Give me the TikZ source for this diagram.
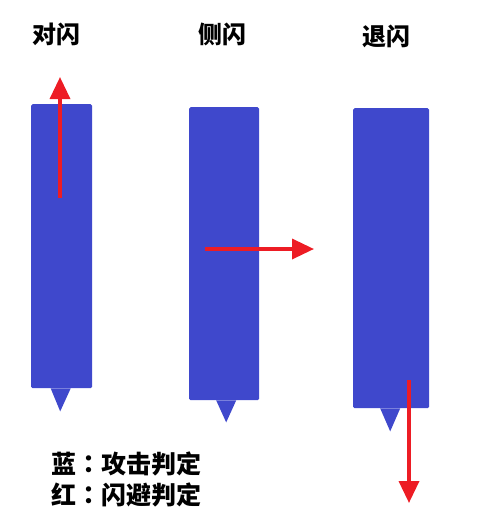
\documentclass[tikz,border=0pt]{standalone}
\usepackage{fontspec}
\newfontfamily\cjk{Noto Sans CJK SC}
\newfontfamily\cjktc{Noto Sans CJK TC}
\usetikzlibrary{arrows.meta,positioning}
\definecolor{hitblue}{RGB}{63,72,204}
\definecolor{dodgered}{RGB}{237,28,36}
\newcommand{\keycolon}{{\cjktc\bfseries ：}}

\begin{document}
\begin{tikzpicture}[x=1pt,y=-1pt,
  hitbox/.style={fill=hitblue,rounded corners=1.5pt,inner sep=0pt,anchor=north west},
  tip/.style={fill=hitblue},
  dodge/.style={draw=dodgered,line width=3.5pt,-{Triangle[length=22pt,width=20pt]}},
  title/.style={font=\cjk\bfseries\fontsize{24}{28}\selectfont,inner sep=0pt},
  key/.style={font=\cjk\bfseries\fontsize{25}{29}\selectfont,inner sep=0pt,anchor=west}]
  \useasboundingbox (0,0) rectangle (477,531);

  % titles
  \node[title] (t1) at (56,34) {对闪};
  \node[title] (t2) at (222,34) {侧闪};
  \node[title] (t3) at (386,36) {退闪};

  % blue hit boxes
  \node[hitbox,minimum width=61pt,minimum height=284pt] (b1) at (31,104) {};
  \node[hitbox,minimum width=70pt,minimum height=293pt] (b2) at (189,107) {};
  \node[hitbox,minimum width=76pt,minimum height=300pt] (b3) at (353,108) {};
  \fill[tip] ([xshift=-11pt]b1.south) -- ([xshift=9pt]b1.south) -- ([xshift=-1.5pt,yshift=-23pt]b1.south) -- cycle;
  \fill[tip] ([xshift=-8pt]b2.south) -- ([xshift=12pt]b2.south) -- ([xshift=2pt,yshift=-22pt]b2.south) -- cycle;
  \fill[tip] ([xshift=-11pt]b3.south) -- ([xshift=9pt]b3.south) -- ([xshift=-1pt,yshift=-23pt]b3.south) -- cycle;

  % red dodge arrows
  \coordinate (s1) at (60,198);
  \coordinate (e1) at (60,77);
  \coordinate (s2) at (205,249);
  \coordinate (e2) at (314,249);
  \coordinate (s3) at (409,380);
  \coordinate (e3) at (409,503);
  \draw[dodge] (s1) -- (e1);
  \draw[dodge] (s2) -- (e2);
  \draw[dodge] (s3) -- (e3);

  % legend
  \node[key] (k1) at (51,464) {蓝\keycolon 攻击判定};
  \node[key] (k2) at (51,495) {红\keycolon 闪避判定};
\end{tikzpicture}
\end{document}
